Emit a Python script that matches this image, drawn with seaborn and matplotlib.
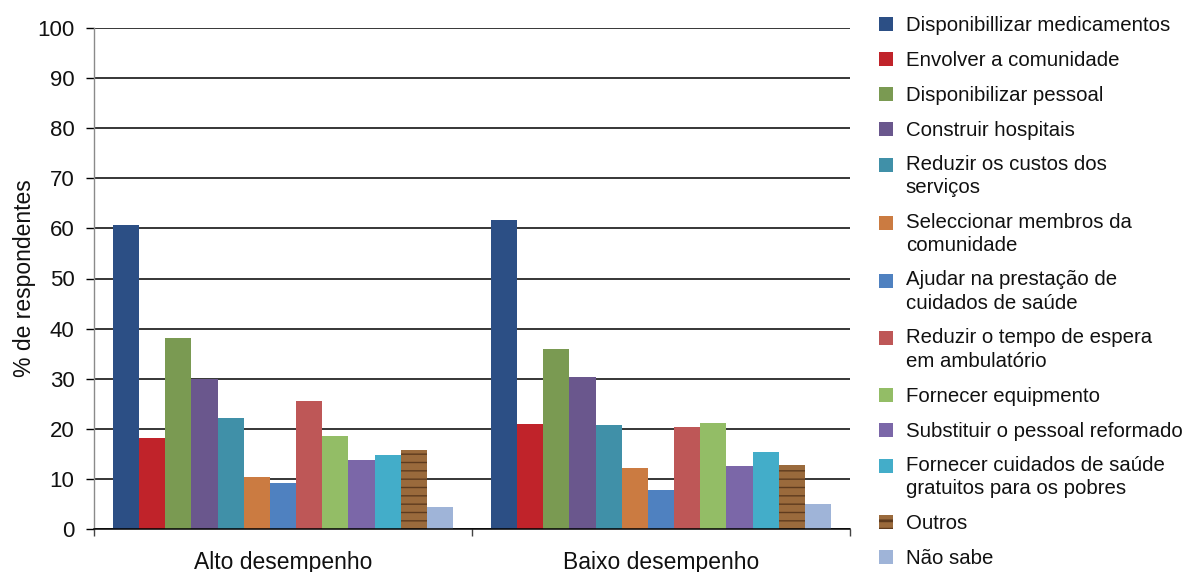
import matplotlib
matplotlib.use("Agg")
import matplotlib.pyplot as plt
import seaborn as sns
import pandas as pd
from matplotlib.patches import Rectangle
from matplotlib.legend_handler import HandlerBase

groups = ["Alto desempenho", "Baixo desempenho"]

categories = [
    "Disponibillizar medicamentos",
    "Envolver a comunidade",
    "Disponibilizar pessoal",
    "Construir hospitais",
    "Reduzir os custos dos\nserviços",
    "Seleccionar membros da\ncomunidade",
    "Ajudar na prestação de\ncuidados de saúde",
    "Reduzir o tempo de espera\nem ambulatório",
    "Fornecer equipmento",
    "Substituir o pessoal reformado",
    "Fornecer cuidados de saúde\ngratuitos para os pobres",
    "Outros",
    "Não sabe",
]

alto = [60.6, 18.2, 38.2, 29.9, 22.2, 10.4, 9.2, 25.6, 18.6, 13.8, 14.8, 15.7, 4.4]
baixo = [61.6, 21.0, 35.9, 30.4, 20.8, 12.2, 7.7, 20.4, 21.2, 12.6, 15.4, 12.8, 5.0]

colors = [
    "#2C4F85", "#C0232A", "#7A9A52", "#6A578D", "#4090A8", "#CB7B41",
    "#4F81C0", "#BE5757", "#93BD66", "#7B67A8", "#43ADC9", "#9A6A3C",
    "#9FB4D8",
]

yticks = list(range(0, 101, 10))

df = pd.DataFrame({
    "grupo": [groups[0]] * len(categories) + [groups[1]] * len(categories),
    "categoria": categories * 2,
    "valor": alto + baixo,
})

sns.set_theme(style="white")
plt.rcParams["font.family"] = ["Liberation Sans", "DejaVu Sans"]

fig = plt.figure(figsize=(11.85, 5.72), dpi=100)
ax = fig.add_axes([94 / 1185, 43 / 572, 756 / 1185, 501 / 572])

sns.barplot(
    data=df, x="grupo", y="valor", hue="categoria", order=groups,
    hue_order=categories, palette=colors, width=0.9, linewidth=0,
    saturation=1, ax=ax, legend=False,
)

# wood-like texture for "Outros"
outros_idx = categories.index("Outros")
plt.rcParams["hatch.linewidth"] = 2.0
for bar in ax.containers[outros_idx]:
    bar.set_hatch("--")
    bar.set_edgecolor("#5E3B1E")
    bar.set_linewidth(0)

ax.set_ylim(0, 100)
ax.set_xlim(-0.5, 1.5)
ax.set_yticks(yticks)
ax.set_yticklabels([str(t) for t in yticks], fontsize=16, color="#111111")
ax.yaxis.grid(True, color="black", linewidth=1.1)
ax.set_axisbelow(True)
ax.set_xlabel("")
ax.set_ylabel("% de respondentes", fontsize=16.5, color="#111111", labelpad=1)

for s in ["top", "right"]:
    ax.spines[s].set_visible(False)
ax.spines["left"].set_color("#8A8A8A")
ax.spines["left"].set_linewidth(1.0)
ax.spines["bottom"].set_color("black")
ax.spines["bottom"].set_linewidth(1.1)

ax.tick_params(axis="y", which="major", left=True, length=6, width=1,
               color="black", pad=8, direction="out")
ax.tick_params(axis="x", which="major", bottom=False, labelsize=16.5,
               labelcolor="#111111", pad=10)
ax.set_xticks([-0.5, 0.5, 1.5], minor=True)
ax.tick_params(axis="x", which="minor", bottom=True, length=5, width=1,
               color="#444444", direction="out")

LINE_PT = 23 * 72 / 100  # distance between wrapped label lines, in points


class TopSquare(HandlerBase):
    """Square legend key aligned with the first line of its label."""

    def __init__(self, nlines, hatch=None, **kw):
        super().__init__(**kw)
        self.nlines = nlines
        self.hatch = hatch

    def create_artists(self, legend, orig_handle, xdescent, ydescent,
                       width, height, fontsize, trans):
        size = 10.0
        shift = (self.nlines - 1) * 0.5 * LINE_PT
        x0 = -xdescent + (width - size) / 2
        y0 = -ydescent + (height - size) / 2 + shift
        p = Rectangle((x0, y0), size, size,
                      facecolor=orig_handle.get_facecolor(),
                      edgecolor="#5E3B1E" if self.hatch else "none",
                      hatch=self.hatch, linewidth=0)
        p.set_transform(trans)
        return [p]


handles = []
hmap = {}
for i, (c, col) in enumerate(zip(categories, colors)):
    h = Rectangle((0, 0), 1, 1, facecolor=col)
    handles.append(h)
    hmap[h] = TopSquare(c.count("\n") + 1,
                        hatch="--" if i == outros_idx else None)

leg = fig.legend(
    handles, categories, handler_map=hmap, loc="upper left",
    bbox_to_anchor=(872 / 1185, 1.0 - 11 / 572), frameon=False,
    fontsize=14.7, handlelength=0.95, handleheight=0.95, handletextpad=0.5,
    labelspacing=0.74, borderaxespad=0, borderpad=0.2,
)
for t in leg.get_texts():
    t.set_color("#111111")
    t.set_linespacing(1.31)

fig.savefig("out.png", dpi=100)
